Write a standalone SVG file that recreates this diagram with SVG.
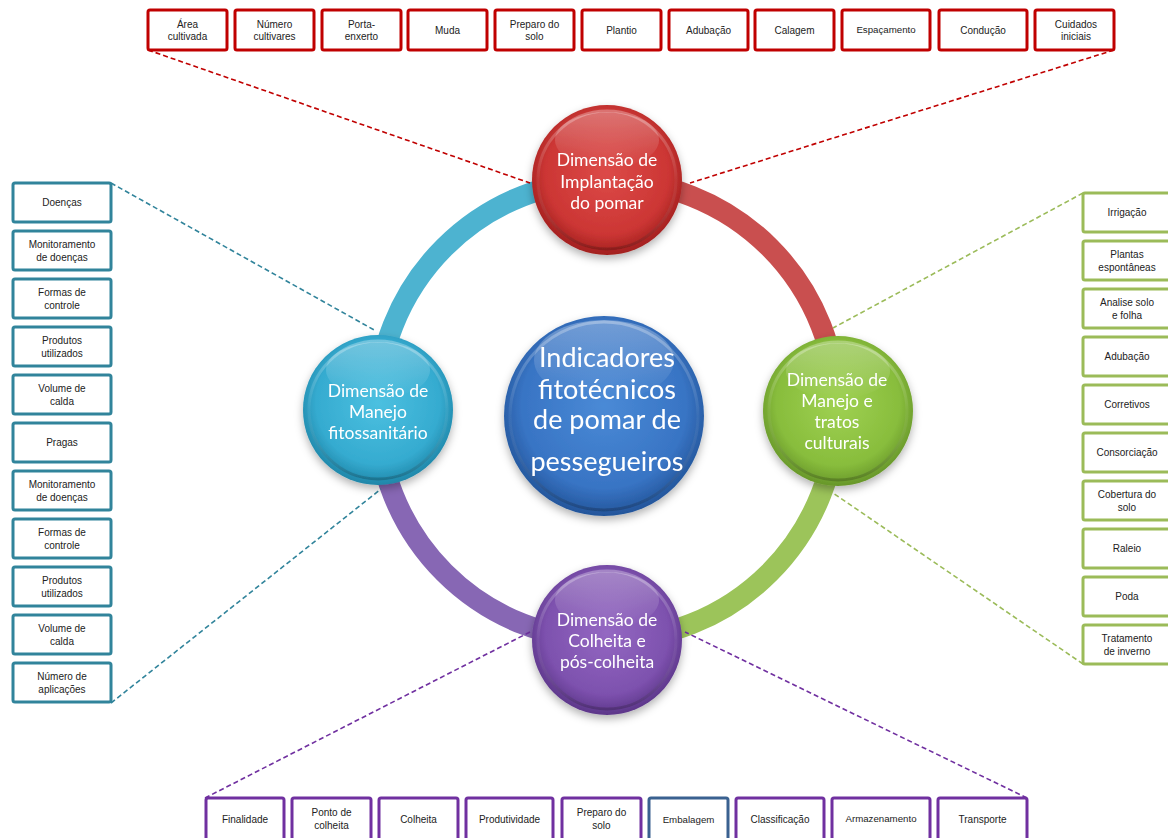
<svg xmlns="http://www.w3.org/2000/svg" width="1168" height="838" viewBox="0 0 1168 838">
  <defs>
    <style>
      .box { fill: #ffffff; stroke-width: 3; }
      .red { stroke: #c00000; }
      .teal { stroke: #31849b; }
      .green { stroke: #9bbb59; }
      .purple { stroke: #7030a0; }
      .navy { stroke: #3a6190; }
      .bt { font-family: "Liberation Sans", Arial, sans-serif; font-size: 10px; fill: #222222; text-anchor: middle; }
      .bt.sm { font-size: 9.7px; }
      .ct { font-family: Lato, "Open Sans", sans-serif; font-size: 17.5px; fill: #ffffff; text-anchor: middle; }
      .mt { font-family: Lato, "Open Sans", sans-serif; font-size: 27px; fill: #ffffff; text-anchor: middle; }
      .dash { fill: none; stroke-width: 1.6; stroke-dasharray: 5 3; }
      .arc { fill: none; stroke-width: 21; }
    </style>
    <radialGradient id="gRed" cx="50%" cy="45%" r="55%">
      <stop offset="0" stop-color="#dc4a48"/>
      <stop offset="0.75" stop-color="#cc3634"/>
      <stop offset="1" stop-color="#a11f1e"/>
    </radialGradient>
    <radialGradient id="gBlue" cx="50%" cy="45%" r="55%">
      <stop offset="0" stop-color="#4a8ad6"/>
      <stop offset="0.75" stop-color="#3874c4"/>
      <stop offset="1" stop-color="#23559a"/>
    </radialGradient>
    <radialGradient id="gCyan" cx="50%" cy="45%" r="55%">
      <stop offset="0" stop-color="#4cc0e0"/>
      <stop offset="0.75" stop-color="#35abd0"/>
      <stop offset="1" stop-color="#1f86a8"/>
    </radialGradient>
    <radialGradient id="gGreen" cx="50%" cy="45%" r="55%">
      <stop offset="0" stop-color="#9fd152"/>
      <stop offset="0.75" stop-color="#88bd3c"/>
      <stop offset="1" stop-color="#67962a"/>
    </radialGradient>
    <radialGradient id="gPurple" cx="50%" cy="45%" r="55%">
      <stop offset="0" stop-color="#9468c2"/>
      <stop offset="0.75" stop-color="#7d51ae"/>
      <stop offset="1" stop-color="#5c3689"/>
    </radialGradient>
    <linearGradient id="gloss" x1="0" y1="0" x2="0" y2="1">
      <stop offset="0" stop-color="#ffffff" stop-opacity="0.3"/>
      <stop offset="1" stop-color="#ffffff" stop-opacity="0"/>
    </linearGradient>
    <linearGradient id="rim" x1="0" y1="0" x2="0" y2="1">
      <stop offset="0" stop-color="#ffffff" stop-opacity="0.3"/>
      <stop offset="0.5" stop-color="#ffffff" stop-opacity="0.05"/>
      <stop offset="1" stop-color="#000000" stop-opacity="0.2"/>
    </linearGradient>
    <filter id="shadow" x="-20%" y="-20%" width="140%" height="150%">
      <feDropShadow dx="0" dy="4" stdDeviation="4" flood-color="#000000" flood-opacity="0.3"/>
    </filter>
  </defs>

  <!-- cycle ring -->
  <g id="ring">
    <path class="arc" stroke="#4db3d0" d="M 377 410 A 230 230 0 0 1 607 180"/>
    <path class="arc" stroke="#c94f4f" d="M 607 180 A 230 230 0 0 1 837 410"/>
    <path class="arc" stroke="#9cc45a" d="M 837 410 A 230 230 0 0 1 607 640"/>
    <path class="arc" stroke="#8767b4" d="M 607 640 A 230 230 0 0 1 377 410"/>
  </g>

  <!-- dashed connectors -->
  <g id="connectors">
    <line class="dash red" x1="148" y1="50" x2="530" y2="183"/>
    <line class="dash red" x1="1114" y1="50" x2="690" y2="183"/>
    <line class="dash teal" x1="111" y1="183" x2="376" y2="331"/>
    <line class="dash teal" x1="111" y1="703" x2="381" y2="489"/>
    <line class="dash green" x1="1083" y1="193" x2="833" y2="328"/>
    <line class="dash green" x1="1083" y1="664" x2="833" y2="493"/>
    <line class="dash purple" x1="205" y1="798" x2="530" y2="632"/>
    <line class="dash purple" x1="1027" y1="798" x2="685" y2="632"/>
  </g>

  <!-- central node -->
  <g id="node-center" filter="url(#shadow)">
    <circle cx="604" cy="416" r="100" fill="url(#gBlue)"/>
    <circle cx="604" cy="416" r="94" fill="none" stroke="url(#rim)" stroke-width="3"/>
    <ellipse cx="604" cy="360" rx="70" ry="40" fill="url(#gloss)"/>
    <text class="mt" x="607" y="367">Indicadores</text>
    <text class="mt" x="607" y="399">fitotécnicos</text>
    <text class="mt" x="607" y="429">de pomar de</text>
    <text class="mt" x="607" y="471">pessegueiros</text>
  </g>

  <!-- dimension nodes -->
  <g id="node-implantacao" filter="url(#shadow)">
    <circle cx="607" cy="180" r="75" fill="url(#gRed)"/>
    <circle cx="607" cy="180" r="69" fill="none" stroke="url(#rim)" stroke-width="3"/>
    <ellipse cx="607" cy="140" rx="52" ry="28" fill="url(#gloss)"/>
    <text class="ct" x="607" y="166">Dimensão de</text>
    <text class="ct" x="607" y="188">Implantação</text>
    <text class="ct" x="607" y="209">do pomar</text>
  </g>

  <g id="node-fitossanitario" filter="url(#shadow)">
    <circle cx="378" cy="410" r="75" fill="url(#gCyan)"/>
    <circle cx="378" cy="410" r="69" fill="none" stroke="url(#rim)" stroke-width="3"/>
    <ellipse cx="378" cy="370" rx="52" ry="28" fill="url(#gloss)"/>
    <text class="ct" x="378" y="397">Dimensão de</text>
    <text class="ct" x="378" y="418">Manejo</text>
    <text class="ct" x="378" y="439">fitossanitário</text>
  </g>

  <g id="node-tratos" filter="url(#shadow)">
    <circle cx="838" cy="411" r="75" fill="url(#gGreen)"/>
    <circle cx="838" cy="411" r="69" fill="none" stroke="url(#rim)" stroke-width="3"/>
    <ellipse cx="838" cy="371" rx="52" ry="28" fill="url(#gloss)"/>
    <text class="ct" x="837" y="386">Dimensão de</text>
    <text class="ct" x="837" y="407">Manejo e</text>
    <text class="ct" x="837" y="428">tratos</text>
    <text class="ct" x="837" y="449">culturais</text>
  </g>

  <g id="node-colheita" filter="url(#shadow)">
    <circle cx="607" cy="640" r="75" fill="url(#gPurple)"/>
    <circle cx="607" cy="640" r="69" fill="none" stroke="url(#rim)" stroke-width="3"/>
    <ellipse cx="607" cy="600" rx="52" ry="28" fill="url(#gloss)"/>
    <text class="ct" x="607" y="626">Dimensão de</text>
    <text class="ct" x="607" y="647">Colheita e</text>
    <text class="ct" x="607" y="668">pós-colheita</text>
  </g>

  <!-- implantation indicators (top row) -->
  <g id="top-area"><rect class="box red" x="148" y="10" width="79" height="40" rx="2"/><text class="bt" x="187.5" y="28">Área</text><text class="bt" x="187.5" y="40">cultivada</text></g>
  <g id="top-cultivares"><rect class="box red" x="235" y="10" width="79" height="40" rx="2"/><text class="bt" x="274.5" y="28">Número</text><text class="bt" x="274.5" y="40">cultivares</text></g>
  <g id="top-portaenxerto"><rect class="box red" x="322" y="10" width="79" height="40" rx="2"/><text class="bt" x="361.5" y="28">Porta-</text><text class="bt" x="361.5" y="40">enxerto</text></g>
  <g id="top-muda"><rect class="box red" x="408" y="10" width="79" height="40" rx="2"/><text class="bt" x="447.5" y="34">Muda</text></g>
  <g id="top-preparo"><rect class="box red" x="495" y="10" width="79" height="40" rx="2"/><text class="bt" x="534.5" y="28">Preparo do</text><text class="bt" x="534.5" y="40">solo</text></g>
  <g id="top-plantio"><rect class="box red" x="582" y="10" width="79" height="40" rx="2"/><text class="bt" x="621.5" y="34">Plantio</text></g>
  <g id="top-adubacao"><rect class="box red" x="669" y="10" width="79" height="40" rx="2"/><text class="bt" x="708.5" y="34">Adubação</text></g>
  <g id="top-calagem"><rect class="box red" x="755" y="10" width="79" height="40" rx="2"/><text class="bt" x="794.5" y="34">Calagem</text></g>
  <g id="top-espacamento"><rect class="box red" x="842" y="10" width="88" height="40" rx="2"/><text class="bt sm" x="886" y="33">Espaçamento</text></g>
  <g id="top-conducao"><rect class="box red" x="939" y="10" width="88" height="40" rx="2"/><text class="bt" x="983" y="34">Condução</text></g>
  <g id="top-cuidados"><rect class="box red" x="1035" y="10" width="79" height="40" rx="2"/><text class="bt" x="1076" y="28">Cuidados</text><text class="bt" x="1076" y="40">iniciais</text></g>

  <!-- phytosanitary indicators (left column) -->
  <g id="left-doencas"><rect class="box teal" x="13" y="183" width="98" height="39" rx="2"/><text class="bt" x="62" y="206">Doenças</text></g>
  <g id="left-monit1"><rect class="box teal" x="13" y="231" width="98" height="39" rx="2"/><text class="bt" x="62" y="248">Monitoramento</text><text class="bt" x="62" y="261">de doenças</text></g>
  <g id="left-formas1"><rect class="box teal" x="13" y="279" width="98" height="39" rx="2"/><text class="bt" x="62" y="296">Formas de</text><text class="bt" x="62" y="309">controle</text></g>
  <g id="left-produtos1"><rect class="box teal" x="13" y="327" width="98" height="39" rx="2"/><text class="bt" x="62" y="344">Produtos</text><text class="bt" x="62" y="357">utilizados</text></g>
  <g id="left-volume1"><rect class="box teal" x="13" y="375" width="98" height="39" rx="2"/><text class="bt" x="62" y="392">Volume de</text><text class="bt" x="62" y="405">calda</text></g>
  <g id="left-pragas"><rect class="box teal" x="13" y="423" width="98" height="39" rx="2"/><text class="bt" x="62" y="446">Pragas</text></g>
  <g id="left-monit2"><rect class="box teal" x="13" y="471" width="98" height="39" rx="2"/><text class="bt" x="62" y="488">Monitoramento</text><text class="bt" x="62" y="501">de doenças</text></g>
  <g id="left-formas2"><rect class="box teal" x="13" y="519" width="98" height="39" rx="2"/><text class="bt" x="62" y="536">Formas de</text><text class="bt" x="62" y="549">controle</text></g>
  <g id="left-produtos2"><rect class="box teal" x="13" y="567" width="98" height="39" rx="2"/><text class="bt" x="62" y="584">Produtos</text><text class="bt" x="62" y="597">utilizados</text></g>
  <g id="left-volume2"><rect class="box teal" x="13" y="615" width="98" height="39" rx="2"/><text class="bt" x="62" y="632">Volume de</text><text class="bt" x="62" y="645">calda</text></g>
  <g id="left-aplicacoes"><rect class="box teal" x="13" y="663" width="98" height="39" rx="2"/><text class="bt" x="62" y="680">Número de</text><text class="bt" x="62" y="693">aplicações</text></g>

  <!-- cultural practice indicators (right column) -->
  <g id="right-irrigacao"><rect class="box green" x="1083" y="193" width="96" height="39" rx="2"/><text class="bt" x="1127" y="216">Irrigação</text></g>
  <g id="right-plantas"><rect class="box green" x="1083" y="241" width="96" height="39" rx="2"/><text class="bt" x="1127" y="258">Plantas</text><text class="bt" x="1127" y="271">espontâneas</text></g>
  <g id="right-analise"><rect class="box green" x="1083" y="289" width="96" height="39" rx="2"/><text class="bt" x="1127" y="306">Analise solo</text><text class="bt" x="1127" y="319">e folha</text></g>
  <g id="right-adubacao"><rect class="box green" x="1083" y="337" width="96" height="39" rx="2"/><text class="bt" x="1127" y="360">Adubação</text></g>
  <g id="right-corretivos"><rect class="box green" x="1083" y="385" width="96" height="39" rx="2"/><text class="bt" x="1127" y="408">Corretivos</text></g>
  <g id="right-consorciacao"><rect class="box green" x="1083" y="433" width="96" height="39" rx="2"/><text class="bt" x="1127" y="456">Consorciação</text></g>
  <g id="right-cobertura"><rect class="box green" x="1083" y="481" width="96" height="39" rx="2"/><text class="bt" x="1127" y="498">Cobertura do</text><text class="bt" x="1127" y="511">solo</text></g>
  <g id="right-raleio"><rect class="box green" x="1083" y="529" width="96" height="39" rx="2"/><text class="bt" x="1127" y="552">Raleio</text></g>
  <g id="right-poda"><rect class="box green" x="1083" y="577" width="96" height="39" rx="2"/><text class="bt" x="1127" y="600">Poda</text></g>
  <g id="right-inverno"><rect class="box green" x="1083" y="625" width="96" height="39" rx="2"/><text class="bt" x="1127" y="642">Tratamento</text><text class="bt" x="1127" y="655">de inverno</text></g>

  <!-- harvest indicators (bottom row) -->
  <g id="bottom-finalidade"><rect class="box purple" x="206" y="798" width="78" height="42" rx="2"/><text class="bt" x="245" y="823">Finalidade</text></g>
  <g id="bottom-ponto"><rect class="box purple" x="292" y="798" width="79" height="42" rx="2"/><text class="bt" x="331.5" y="816">Ponto de</text><text class="bt" x="331.5" y="829">colheita</text></g>
  <g id="bottom-colheita"><rect class="box purple" x="379" y="798" width="79" height="42" rx="2"/><text class="bt" x="418.5" y="823">Colheita</text></g>
  <g id="bottom-produtividade"><rect class="box purple" x="466" y="798" width="87" height="42" rx="2"/><text class="bt" x="509.5" y="823">Produtividade</text></g>
  <g id="bottom-preparo"><rect class="box purple" x="562" y="798" width="79" height="42" rx="2"/><text class="bt" x="601.5" y="816">Preparo do</text><text class="bt" x="601.5" y="829">solo</text></g>
  <g id="bottom-embalagem"><rect class="box navy" x="649" y="798" width="79" height="42" rx="2"/><text class="bt sm" x="688.5" y="823">Embalagem</text></g>
  <g id="bottom-classificacao"><rect class="box purple" x="736" y="798" width="88" height="42" rx="2"/><text class="bt" x="780" y="823">Classificação</text></g>
  <g id="bottom-armazenamento"><rect class="box purple" x="832" y="798" width="98" height="42" rx="2"/><text class="bt sm" x="881" y="822">Armazenamento</text></g>
  <g id="bottom-transporte"><rect class="box purple" x="938" y="798" width="89" height="42" rx="2"/><text class="bt" x="982.5" y="823">Transporte</text></g>
</svg>
